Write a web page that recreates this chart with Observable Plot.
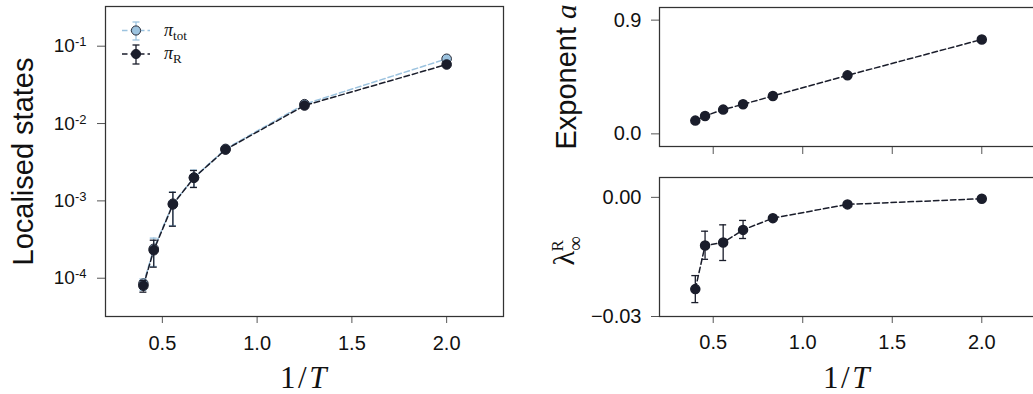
<!DOCTYPE html>
<html><head><meta charset="utf-8">
<script src="https://cdn.jsdelivr.net/npm/d3@7"></script>
<script src="https://cdn.jsdelivr.net/npm/@observablehq/plot@0.6"></script>
<style>
html,body{margin:0;padding:0;background:#fff;overflow:hidden}
#wrap{position:relative;width:1033px;height:394px;overflow:hidden;background:#fff}
#wrap > svg{position:absolute}
</style></head><body><div id="wrap"></div>
<script>
// ---- data ----
const invT = [0.4, 0.4545, 0.5556, 0.6667, 0.8333, 1.25, 2.0];
const piTot   = [8.5e-5, 2.4e-4, 9.2e-4, 2.0e-3, 4.7e-3, 0.0178, 0.0687];
const piTotLo = [7.0e-5, 1.42e-4, 4.8e-4, 1.5e-3, 4.4e-3, 0.0171, 0.0665];
const piTotHi = [9.8e-5, 3.3e-4, 1.3e-3, 2.5e-3, 5.0e-3, 0.0185, 0.0710];
const piR   = [8.0e-5, 2.3e-4, 9.0e-4, 1.99e-3, 4.6e-3, 0.0171, 0.058];
const piRLo = [6.6e-5, 1.39e-4, 4.7e-4, 1.49e-3, 4.3e-3, 0.0164, 0.0560];
const piRHi = [9.3e-5, 3.1e-4, 1.29e-3, 2.47e-3, 4.9e-3, 0.0178, 0.0600];
const expA = [0.105, 0.142, 0.192, 0.234, 0.300, 0.463, 0.747];
const lam   = [-0.0231, -0.01213, -0.01137, -0.00819, -0.00523, -0.00177, -0.00035];
const lamLo = [-0.0265, -0.0156, -0.0159, -0.01036, -0.0056, -0.0020, -0.0005];
const lamHi = [-0.0197, -0.00852, -0.00692, -0.00581, -0.0049, -0.0015, -0.0002];
const xTicks = [0.5, 1.0, 1.5, 2.0];
const logTicks = [1e-4, 1e-3, 1e-2, 1e-1];
const aTicks = [0.0, 0.9];
const lamTicks = [0.00, -0.03];

// ---- style ----
const dark = "#1a1d2b", light = "#9cc3df", frameC = "#333", tickC = "#555", textC = "#111";
const dash = "5.5,3";
const sans = "Liberation Sans, Arial, sans-serif";
const serif = "Liberation Serif, Times New Roman, serif";

const totData = invT.map((x, i) => ({x, y: piTot[i], lo: piTotLo[i], hi: piTotHi[i]}));
const rData = invT.map((x, i) => ({x, y: piR[i], lo: piRLo[i], hi: piRHi[i]}));
const aData = invT.map((x, i) => ({x, y: expA[i]}));
const lData = invT.map((x, i) => ({x, y: lam[i], lo: lamLo[i], hi: lamHi[i]}));

function errMarks(data, color) {
  return [
    Plot.ruleX(data, {x: "x", y1: "lo", y2: "hi", stroke: color, strokeWidth: 1.3}),
    Plot.ruleY(data, {y: "lo", x1: "x", x2: "x", insetLeft: -3.5, insetRight: -3.5, stroke: color, strokeWidth: 1.3}),
    Plot.ruleY(data, {y: "hi", x1: "x", x2: "x", insetLeft: -3.5, insetRight: -3.5, stroke: color, strokeWidth: 1.3})
  ];
}

const wrap = document.getElementById("wrap");

// ---- left panel ----
const left = Plot.plot({
  width: 520, height: 394,
  marginLeft: 105, marginRight: 17, marginTop: 6, marginBottom: 78,
  style: {fontFamily: sans, color: textC, background: "transparent", overflow: "visible"},
  x: {domain: [0.2, 2.3]},
  y: {type: "log", domain: [3.2e-5, 0.326]},
  marks: [
    Plot.axisX({ticks: xTicks, tickFormat: d3.format(".1f"), tickSize: 7, tickPadding: 12, fontSize: 20, stroke: tickC, fill: textC, label: null}),
    Plot.axisY({ticks: logTicks, tickFormat: d => "10^" + Math.round(Math.log10(d)), tickSize: 8, tickPadding: 11, fontSize: 19, stroke: tickC, fill: textC, label: null}),
    Plot.line(totData, {x: "x", y: "y", stroke: light, strokeWidth: 1.5, strokeDasharray: dash}),
    ...errMarks(totData, light),
    Plot.dot(totData, {x: "x", y: "y", r: 4.8, fill: light, stroke: "#2a2d3a", strokeWidth: 1}),
    Plot.line(rData, {x: "x", y: "y", stroke: dark, strokeWidth: 1.5, strokeDasharray: dash}),
    ...errMarks(rData, dark),
    Plot.dot(rData, {x: "x", y: "y", r: 4.8, fill: dark, stroke: dark, strokeWidth: 1}),
    Plot.frame({stroke: frameC, strokeWidth: 1.25}),
    Plot.text(["Localised states"], {frameAnchor: "left", textAnchor: "middle", lineAnchor: "middle", rotate: -90, dx: -82, fontSize: 29, fill: textC, fontFamily: sans}),
    Plot.text(["1/T"], {frameAnchor: "bottom", dy: 62, lineAnchor: "middle", fontSize: 31, fill: textC, fontFamily: serif})
  ]
});
left.style.left = "0px"; left.style.top = "0px";
wrap.appendChild(left);

// ---- right top panel ----
const rtop = Plot.plot({
  width: 516, height: 160,
  marginLeft: 139, marginRight: 1, marginTop: 7, marginBottom: 14,
  style: {fontFamily: sans, color: textC, background: "transparent", overflow: "visible"},
  x: {domain: [0.2, 2.3]},
  y: {domain: [-0.1, 1.0]},
  marks: [
    Plot.axisX({ticks: xTicks, tickFormat: () => "", tickSize: 8, tickPadding: 0, stroke: tickC, label: null}),
    Plot.axisY({ticks: aTicks, tickFormat: d3.format(".1f"), tickSize: 8, tickPadding: 10, fontSize: 20, stroke: tickC, fill: textC, label: null}),
    Plot.line(aData, {x: "x", y: "y", stroke: dark, strokeWidth: 1.5, strokeDasharray: dash}),
    Plot.dot(aData, {x: "x", y: "y", r: 4.5, fill: dark, stroke: dark}),
    Plot.frame({stroke: frameC, strokeWidth: 1.25}),
    Plot.text(["Exponent a"], {frameAnchor: "left", textAnchor: "middle", lineAnchor: "middle", rotate: -90, dx: -93, fontSize: 29, fill: textC, fontFamily: sans})
  ]
});
rtop.style.left = "520px"; rtop.style.top = "0px";
wrap.appendChild(rtop);

// ---- right bottom panel ----
const rbot = Plot.plot({
  width: 516, height: 234,
  marginLeft: 139, marginRight: 1, marginTop: 17, marginBottom: 78,
  style: {fontFamily: sans, color: textC, background: "transparent", overflow: "visible"},
  x: {domain: [0.2, 2.3]},
  y: {domain: [-0.03, 0.005]},
  marks: [
    Plot.axisX({ticks: xTicks, tickFormat: d3.format(".1f"), tickSize: 7, tickPadding: 11, fontSize: 20, stroke: tickC, fill: textC, label: null}),
    Plot.axisY({ticks: lamTicks, tickFormat: d3.format(".2f"), tickSize: 8, tickPadding: 10, fontSize: 20, stroke: tickC, fill: textC, label: null}),
    Plot.line(lData, {x: "x", y: "y", stroke: dark, strokeWidth: 1.5, strokeDasharray: dash}),
    ...errMarks(lData, dark),
    Plot.dot(lData, {x: "x", y: "y", r: 4.5, fill: dark, stroke: dark}),
    Plot.frame({stroke: frameC, strokeWidth: 1.25}),
    Plot.text(["λ∞R"], {frameAnchor: "left", textAnchor: "middle", lineAnchor: "middle", rotate: -90, dx: -95, dy: 4, fontSize: 30, fill: textC, fontFamily: serif}),
    Plot.text(["1/T"], {frameAnchor: "bottom", dy: 62, lineAnchor: "middle", fontSize: 31, fill: textC, fontFamily: serif})
  ]
});
rbot.style.left = "520px"; rbot.style.top = "160px";
wrap.appendChild(rbot);

// ---- rich text post-processing ----
d3.selectAll("#wrap svg text").each(function() {
  const t = this.textContent;
  const s = d3.select(this);
  if (t.startsWith("10^")) {
    s.text("");
    s.append("tspan").text("10");
    s.append("tspan").attr("dy", "-0.45em").attr("font-size", "13px").text(t.slice(3));
  } else if (t === "1/T") {
    s.text("").attr("letter-spacing", "2.5px");
    s.append("tspan").text("1/");
    s.append("tspan").attr("font-style", "italic").text("T");
  } else if (t === "Exponent a") {
    s.text("");
    s.append("tspan").text("Exponent ");
    s.append("tspan").attr("font-style", "italic").attr("font-family", serif).text("a");
  } else if (t === "λ∞R") {
    s.text("");
    s.append("tspan").text("λ");
    s.append("tspan").attr("font-size", "20px").attr("dy", 8).text("∞");
    s.append("tspan").attr("font-size", "17px").attr("dx", -15).attr("dy", -19).text("R");
  }
});

// ---- legend (left panel) ----
const lg = d3.select(left).append("g").attr("aria-label", "legend");
[[light, "#2a2d3a", 30.5, 22, 40, "tot"], [dark, dark, 54, 45, 64, "R"]].forEach(([c, edge, y, y1, y2, sub]) => {
  lg.append("line").attr("x1", 122).attr("x2", 150).attr("y1", y).attr("y2", y)
    .attr("stroke", c).attr("stroke-width", 1.5).attr("stroke-dasharray", dash);
  lg.append("line").attr("x1", 136).attr("x2", 136).attr("y1", y1).attr("y2", y2).attr("stroke", c).attr("stroke-width", 1.3);
  [y1, y2].forEach(yy => lg.append("line").attr("x1", 132.5).attr("x2", 139.5).attr("y1", yy).attr("y2", yy).attr("stroke", c).attr("stroke-width", 1.3));
  lg.append("circle").attr("cx", 136).attr("cy", y).attr("r", 4.6).attr("fill", c).attr("stroke", edge);
  const tx = lg.append("text").attr("x", 164).attr("y", y + 5).attr("text-anchor", "start")
    .attr("font-family", serif).attr("font-size", 18).attr("fill", textC);
  tx.append("tspan").attr("font-style", "italic").text("π");
  tx.append("tspan").attr("font-size", 13).attr("dy", 4).text(sub);
});
</script></body></html>
